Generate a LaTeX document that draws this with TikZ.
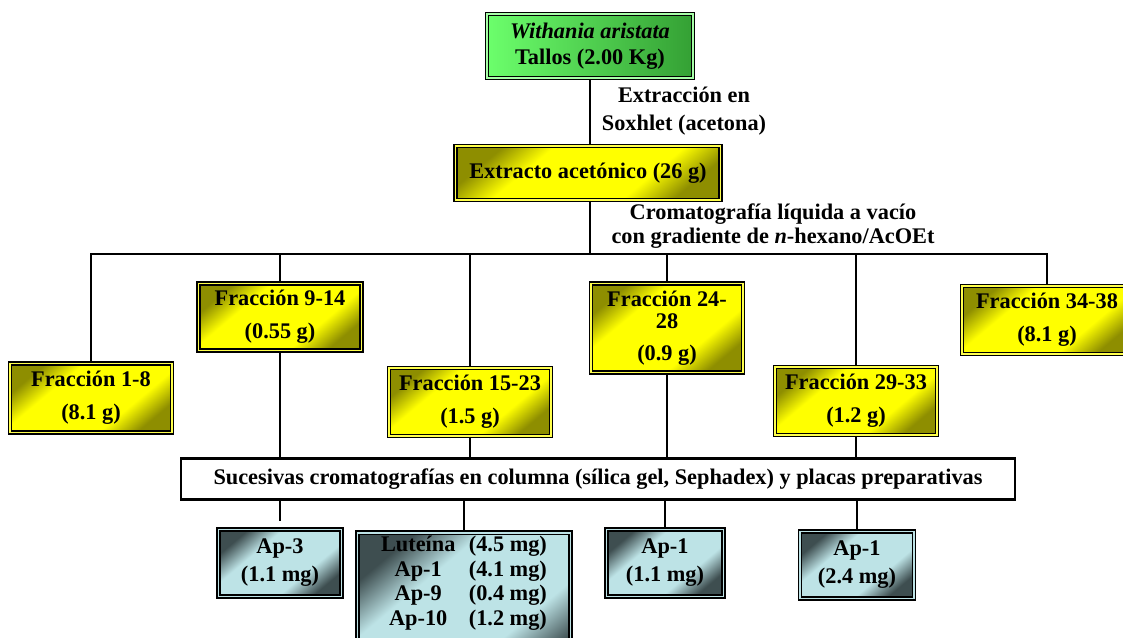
\documentclass[tikz,border=0pt]{standalone}
\usepackage{fontspec}
\setmainfont{Liberation Serif}

% box colours
\definecolor{fracdark}{HTML}{8E8E00}
\definecolor{fraclight}{HTML}{FFFF00}
\definecolor{proddark}{HTML}{3E4E50}
\definecolor{prodlight}{HTML}{BDE3E6}
\definecolor{plantlight}{HTML}{6CFF6C}
\definecolor{plantdark}{HTML}{34A034}

% dark corners, light band across the middle
\pgfdeclareverticalshading{fracshade}{100bp}{color(0bp)=(fracdark); color(25bp)=(fracdark); color(36bp)=(fraclight); color(64bp)=(fraclight); color(75bp)=(fracdark); color(100bp)=(fracdark)}
\pgfdeclareverticalshading{prodshade}{100bp}{color(0bp)=(proddark); color(25bp)=(proddark); color(37bp)=(prodlight); color(63bp)=(prodlight); color(75bp)=(proddark); color(100bp)=(proddark)}

\tikzset{
	framebox/.style={draw=black, line width=0.9pt, double distance=1.0pt, align=center, inner sep=1pt},
	plantbox/.style={framebox, double=plantlight!60, left color=plantlight, right color=plantdark},
	fracbox/.style={framebox, double=fraclight!70, shade, shading=fracshade, shading angle=40},
	prodbox/.style={framebox, double=prodlight, shade, shading=prodshade, shading angle=40},
	stepbar/.style={draw=black, line width=1.4pt, fill=white, align=center},
	link/.style={line width=1.6pt}
}

\begin{document}
\begin{tikzpicture}[x=0.02cm, y=-0.02cm, every node/.style={font=\fontsize{12.7}{14}\selectfont\bfseries}]
		%%%%% START %%%%%
		\useasboundingbox (0,0) rectangle (1123,637);
		
		% plant material and extract
		\node[plantbox, minimum width=4.12cm, minimum height=1.28cm] (plant) at (590,46) {\textit{Withania aristata}\\[1pt]Tallos (2.00 Kg)};
		\node[fracbox, minimum width=5.30cm, minimum height=1.08cm] (extract) at (588,173) {Extracto acetónico (26 g)};
		
		\node[align=center] (soxhlet) at (684,111) {Extracción en\\[2pt]Soxhlet (acetona)};
		\node[align=center] (vacuum) at (773,226) {Cromatografía líquida a vacío\\con gradiente de \textit{n}-hexano/AcOEt};
		
		% fractions
		\node[fracbox, minimum width=3.24cm, minimum height=1.38cm] (f1) at (91,398) {Fracción 1-8\\[5pt](8.1 g)};
		\node[fracbox, minimum width=3.26cm, minimum height=1.34cm] (f2) at (280,317) {Fracción 9-14\\[5pt](0.55 g)};
		\node[fracbox, minimum width=3.24cm, minimum height=1.36cm] (f3) at (470,402) {Fracción 15-23\\[5pt](1.5 g)};
		\node[fracbox, minimum width=3.04cm, minimum height=1.78cm] (f4) at (667,328) {Fracción 24-\\[-1pt]28\\[4pt](0.9 g)};
		\node[fracbox, minimum width=3.24cm, minimum height=1.36cm] (f5) at (856,401) {Fracción 29-33\\[5pt](1.2 g)};
		\node[fracbox, minimum width=3.40cm, minimum height=1.36cm] (f6) at (1047,320) {Fracción 34-38\\[5pt](8.1 g)};
		
		\node[stepbar, minimum width=16.68cm, minimum height=0.82cm] (columns) at (598,479) {Sucesivas cromatografías en columna (sílica gel, Sephadex) y placas preparativas};
		
		% isolated compounds
		\node[prodbox, minimum width=2.46cm, minimum height=1.34cm] (p1) at (280,563) {Ap-3\\[2pt](1.1 mg)};
		\node[prodbox, minimum width=4.26cm, minimum height=2.30cm, anchor=north] (p2) at (464,532) {%
			\begin{tabular}{@{}c@{\hspace{0.6em}}l@{}}
				Luteína & (4.5 mg)\\
				Ap-1 & (4.1 mg)\\
				Ap-9 & (0.4 mg)\\
				Ap-10 & (1.2 mg)
			\end{tabular}\\[28pt]};
		\node[prodbox, minimum width=2.34cm, minimum height=1.34cm] (p3) at (665,563) {Ap-1\\[2pt](1.1 mg)};
		\node[prodbox, minimum width=2.28cm, minimum height=1.34cm] (p4) at (857,565) {Ap-1\\[2pt](2.4 mg)};
		
		% connectors
		\coordinate (bus) at (590,254);
		\draw[link] (plant.south) -- (plant.south |- extract.north);
		\draw[link] (extract.south -| bus) -- (bus);
		\draw[link] (f1.north) |- (f6.north |- bus) -- (f6.north);
		\foreach \f in {f2,f3,f4,f5}
			\draw[link] (\f.north) -- (\f.north |- bus);
		\foreach \f in {f2,f3,f4,f5}
			\draw[link] (\f.south) -- (\f.south |- columns.north);
		
		\draw[link] (columns.south -| p1) -- ([yshift=0.16cm]p1.north);
		\foreach \p in {p2,p3,p4}
			\draw[link] (columns.south -| \p) -- (\p.north);
		
		%%%%% END %%%%%
\end{tikzpicture}
\end{document}
